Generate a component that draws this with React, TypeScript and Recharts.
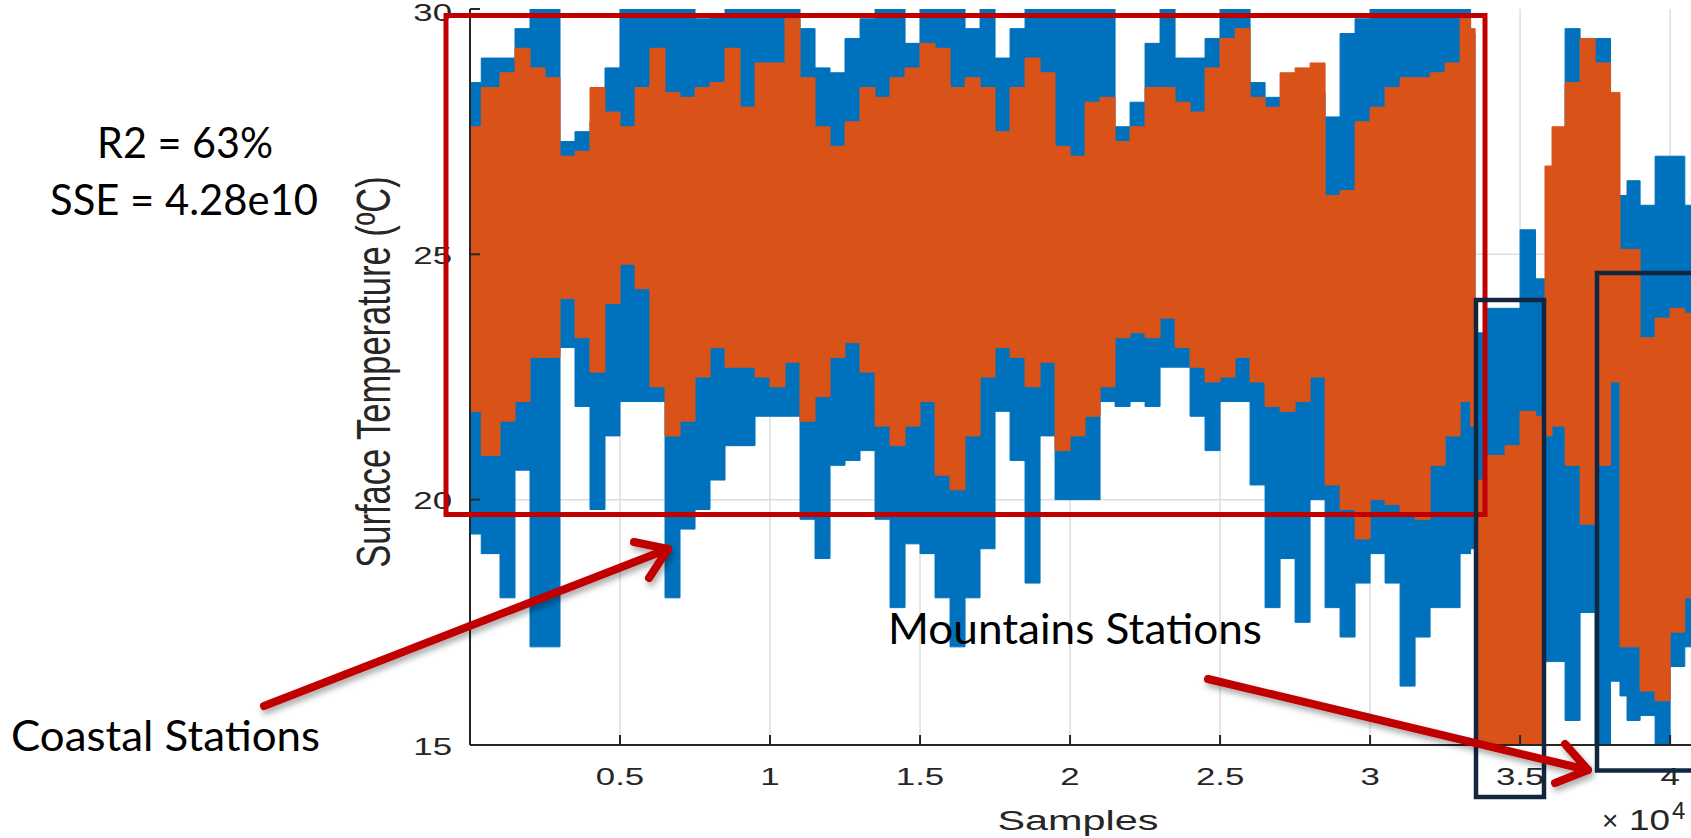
import React from "react";
import { ComposedChart, Area, XAxis, YAxis, CartesianGrid } from "recharts";

// sample index (x) and envelope of each trace
const SAMPLES = [
  0, 750, 1250, 1750, 2250, 2750, 3250, 3750, 4250, 4750, 5250, 5750, 6250, 6750, 7250, 7750, 8250, 8750,
  9250, 9750, 10250, 10750, 11250, 11750, 12250, 12750, 13250, 13750, 14250, 14750, 15250, 15750, 16250,
  16750, 17250, 17750, 18250, 18750, 19250, 19750, 20250, 20750, 21250, 21750, 22250, 22750, 23250, 23750,
  24250, 24750, 25250, 25750, 26250, 26750, 27250, 27750, 28250, 28750, 29250, 29750, 30250, 30750, 31250,
  31750, 32250, 32750, 33250, 33450, 33550, 34250, 34750, 35250, 35780, 35880, 36250, 36750, 37250, 37750,
  38280, 38380, 38750, 39250, 39750, 40250, 40730,
];
const MEASURED_HIGH = [
  28.5, 29.0, 29.0, 29.6, 30, 30, 27.3, 27.5, 27.7, 28.8, 30, 30, 30, 30, 30, 29.8, 29.9, 30,
  30, 30, 30, 30, 29.6, 28.8, 28.7, 29.4, 29.8, 30, 30, 29.3, 30, 30, 30,
  29.6, 30, 29.0, 29.6, 30, 30, 30, 30, 30, 30, 27.6, 28.1, 29.3, 30, 29.0,
  29.0, 29.4, 30, 30, 28.5, 28.2, 28.1, 28.2, 28.3, 27.8, 29.5, 29.8, 30, 30, 30,
  30, 30, 30, 30, 29.5, 23.4, 23.9, 23.9, 25.5, 24.5, 24.5, 24.5, 29.6, 28.2, 29.4,
  26.2, 26.2, 26.5, 26.0, 27.0, 27.0, 26.0,
];
const MEASURED_LOW = [
  19.3, 18.9, 18.0, 20.6, 17.0, 17.0, 23.1, 21.9, 19.8, 21.3, 22.0, 22.0, 22.0, 18.0, 19.4, 19.8, 20.4, 21.1,
  21.1, 21.7, 21.7, 21.7, 19.6, 18.8, 20.7, 20.8, 21.0, 19.6, 17.8, 19.1, 18.9, 18.0, 17.0,
  18.0, 19.0, 21.8, 20.8, 18.3, 21.3, 20.0, 20.0, 20.0, 22.0, 21.9, 22.0, 21.9, 22.7, 22.7,
  21.7, 21.0, 22.0, 22.0, 20.3, 17.8, 18.8, 17.5, 20.0, 17.8, 17.2, 18.3, 18.9, 18.3, 16.2,
  17.2, 17.8, 17.8, 18.9, 19.0, 16.1, 17.3, 17.8, 16.0, 15.2, 16.7, 16.7, 15.5, 17.7, 15.0,
  16.3, 16.0, 15.5, 15.6, 15.0, 16.6, 17.0,
];
const FIT_HIGH = [
  27.6, 28.4, 28.7, 29.2, 28.8, 28.6, 27.0, 27.1, 28.4, 27.9, 27.6, 28.4, 29.2, 28.3, 28.2, 28.4, 28.5, 29.2,
  28.0, 28.9, 28.9, 29.8, 28.6, 27.6, 27.2, 27.7, 28.4, 28.2, 28.6, 28.8, 29.3, 29.2, 28.4,
  28.6, 28.4, 27.5, 28.4, 29.0, 28.7, 27.2, 27.0, 28.1, 28.2, 27.3, 27.6, 28.4, 28.4, 28.1,
  27.9, 28.8, 29.4, 29.6, 28.2, 28.0, 28.7, 28.8, 28.9, 26.2, 26.3, 27.7, 28.0, 28.4, 28.6,
  28.6, 28.7, 28.9, 29.8, 29.6, 20.4, 20.9, 21.1, 21.8, 21.7, 26.8, 27.6, 28.5, 29.4, 28.9,
  28.3, 25.1, 25.1, 23.3, 23.7, 23.9, 23.8,
];
const FIT_LOW = [
  21.8, 20.9, 21.6, 22.0, 22.9, 22.9, 24.1, 23.3, 22.6, 24.0, 24.8, 24.3, 22.3, 21.3, 21.6, 22.5, 23.1, 22.7,
  22.7, 22.5, 22.3, 22.8, 21.6, 22.1, 22.9, 23.2, 22.6, 21.5, 21.1, 21.5, 22.0, 20.5, 20.2,
  21.3, 22.5, 23.1, 22.9, 22.3, 22.8, 21.0, 21.3, 21.7, 22.3, 23.3, 23.4, 23.3, 23.7, 23.1,
  22.7, 22.4, 22.5, 22.9, 22.4, 21.9, 21.8, 22.0, 22.5, 20.3, 19.8, 19.2, 20.0, 19.9, 19.7,
  19.6, 20.7, 21.3, 22.0, 21.5, 15, 15, 15, 15, 15, 21.3, 21.5, 20.7, 19.5, 20.7,
  22.4, 17.0, 17.0, 16.1, 15.9, 17.3, 18.0,
];
const X_TICKS = [5000, 10000, 15000, 20000, 25000, 30000, 35000, 40000];
const Y_TICKS = [15, 20, 25, 30];

const data = SAMPLES.map((s, i) => ({
  s,
  measured: [MEASURED_LOW[i], MEASURED_HIGH[i]],
  fit: [FIT_LOW[i], FIT_HIGH[i]],
}));

const BLUE = "#0072BD";
const ORANGE = "#D95319";
const AXIS = "#262626";
const GRID = "#DEDEDE";
const FONT = "'Liberation Sans', Arial, sans-serif";
const NOTE_FONT = "Lato, 'Open Sans', sans-serif";
const STRETCH = 1.45;
const TICK_LEN = 10;

const fmtX = (v: number) => String(v / 10000);

function BottomTick({ x, y, payload }: any) {
  return (
    <g transform={`translate(${x},${y})`}>
      <line x1={0} y1={0} x2={0} y2={-TICK_LEN} stroke={AXIS} strokeWidth={2} />
      <g transform={`translate(0,40) scale(${STRETCH},1)`}>
        <text textAnchor="middle" fill={AXIS} fontSize={24} fontFamily={FONT}>
          {fmtX(payload.value)}
        </text>
      </g>
    </g>
  );
}

function TopTick({ x, y }: any) {
  return <line x1={x} y1={y} x2={x} y2={y + TICK_LEN} stroke={AXIS} strokeWidth={2} />;
}

function LeftTick({ x, y, payload }: any) {
  return (
    <g transform={`translate(${x},${y})`}>
      <line x1={0} y1={0} x2={TICK_LEN} y2={0} stroke={AXIS} strokeWidth={2} />
      <g transform={`translate(-18,${payload.value === 30 ? 3 : 1}) scale(${STRETCH},1)`}>
        <text textAnchor="end" dy="0.36em" fill={AXIS} fontSize={24} fontFamily={FONT}>
          {payload.value}
        </text>
      </g>
    </g>
  );
}

function RightTick({ x, y }: any) {
  return <line x1={x} y1={y} x2={x - TICK_LEN} y2={y} stroke={AXIS} strokeWidth={2} />;
}

function Arrow({ from, tip, a, b }: { from: number[]; tip: number[]; a: number[]; b: number[] }) {
  return (
    <g stroke="#C00000" strokeWidth={8} strokeLinecap="round" strokeLinejoin="round" fill="none" filter="url(#shadow)">
      <line x1={from[0]} y1={from[1]} x2={tip[0]} y2={tip[1]} />
      <polyline points={`${a[0]},${a[1]} ${tip[0]},${tip[1]} ${b[0]},${b[1]}`} />
    </g>
  );
}

export default function App() {
  return (
    <div style={{ position: "absolute", left: 0, top: 0, width: 1691, height: 838, overflow: "hidden", background: "#fff" }}>
      <ComposedChart
        width={1700}
        height={838}
        data={data}
        margin={{ top: 9, right: 8, bottom: 33, left: 0 }}
      >
        <CartesianGrid stroke={GRID} strokeWidth={1.5} horizontalValues={[20, 25]} verticalValues={X_TICKS} />
        <XAxis
          dataKey="s"
          type="number"
          domain={[0, 40730]}
          ticks={X_TICKS}
          height={60}
          axisLine={{ stroke: AXIS, strokeWidth: 2 }}
          tickLine={false}
          tickSize={0}
          tickMargin={0}
          tick={<BottomTick />}
          interval={0}
          allowDataOverflow
        />
        <XAxis
          xAxisId="top"
          orientation="top"
          dataKey="s"
          type="number"
          domain={[0, 40730]}
          ticks={X_TICKS}
          height={0}
          axisLine={{ stroke: AXIS, strokeWidth: 2 }}
          tickLine={false}
          tickSize={0}
          tickMargin={0}
          tick={<TopTick />}
          interval={0}
        />
        <YAxis
          type="number"
          domain={[15, 30]}
          ticks={Y_TICKS}
          width={470}
          axisLine={{ stroke: AXIS, strokeWidth: 2 }}
          tickLine={false}
          tickSize={0}
          tickMargin={0}
          tick={<LeftTick />}
          interval={0}
          allowDataOverflow
        />
        <YAxis
          yAxisId="right"
          orientation="right"
          type="number"
          domain={[15, 30]}
          ticks={Y_TICKS}
          width={0}
          axisLine={{ stroke: AXIS, strokeWidth: 2 }}
          tickLine={false}
          tickSize={0}
          tickMargin={0}
          tick={<RightTick />}
          interval={0}
        />
        <Area
          type="step"
          dataKey="measured"
          stroke={BLUE}
          strokeWidth={1}
          fill={BLUE}
          fillOpacity={1}
          dot={false}
          activeDot={false}
          isAnimationActive={false}
        />
        <Area
          type="step"
          dataKey="fit"
          stroke={ORANGE}
          strokeWidth={1}
          fill={ORANGE}
          fillOpacity={1}
          dot={false}
          activeDot={false}
          isAnimationActive={false}
        />
      </ComposedChart>

      <svg
        width={1691}
        height={838}
        style={{ position: "absolute", left: 0, top: 0, pointerEvents: "none" }}
      >
        <defs>
          <filter id="shadow" x="-10%" y="-10%" width="120%" height="140%">
            <feDropShadow dx="2" dy="4" stdDeviation="3" floodColor="#000" floodOpacity="0.35" />
          </filter>
        </defs>

        {/* axis titles */}
        <g transform={`translate(390,372) scale(1.38,1) rotate(-90)`}>
          <text textAnchor="middle" fill={AXIS} fontSize={34.5} fontFamily={FONT}>
            Surface Temperature (ºC)
          </text>
        </g>
        <text x={1078} y={830} textAnchor="middle" fill={AXIS} fontSize={27} fontFamily={FONT} textLength={161} lengthAdjust="spacingAndGlyphs">
          Samples
        </text>
        <text x={1602} y={830} fill={AXIS} fontSize={28} fontFamily={FONT}>×</text>
        <text x={1629} y={830} fill={AXIS} fontSize={30} fontFamily={FONT} textLength={41} lengthAdjust="spacingAndGlyphs">10</text>
        <text x={1672} y={819} fill={AXIS} fontSize={24} fontFamily={FONT}>4</text>

        {/* highlighted regions */}
        <rect x={446} y={15.5} width={1039} height={499} fill="none" stroke="#C00000" strokeWidth={5} />
        <rect x={1476} y={300} width={68} height={497} fill="none" stroke="#12263F" strokeWidth={4.5} />
        <rect x={1597} y={273} width={120} height={497.5} fill="none" stroke="#12263F" strokeWidth={4.5} />

        <Arrow from={[264, 706]} tip={[668, 549]} a={[634, 542]} b={[649, 578]} />
        <Arrow from={[1208, 679]} tip={[1588, 770]} a={[1565, 744]} b={[1555, 783]} />

        {/* notes */}
        <text x={97} y={158} fill="#000" fontSize={42} fontFamily={NOTE_FONT} textLength={176} lengthAdjust="spacingAndGlyphs">
          R2 = 63%
        </text>
        <text x={50} y={215} fill="#000" fontSize={42} fontFamily={NOTE_FONT} textLength={268} lengthAdjust="spacingAndGlyphs">
          SSE = 4.28e10
        </text>
        <text x={11} y={751} fill="#000" fontSize={42} fontFamily={NOTE_FONT} textLength={309} lengthAdjust="spacingAndGlyphs">
          Coastal Stations
        </text>
        <text x={888} y={644} fill="#000" fontSize={42} fontFamily={NOTE_FONT} textLength={374} lengthAdjust="spacingAndGlyphs">
          Mountains Stations
        </text>
      </svg>
    </div>
  );
}
